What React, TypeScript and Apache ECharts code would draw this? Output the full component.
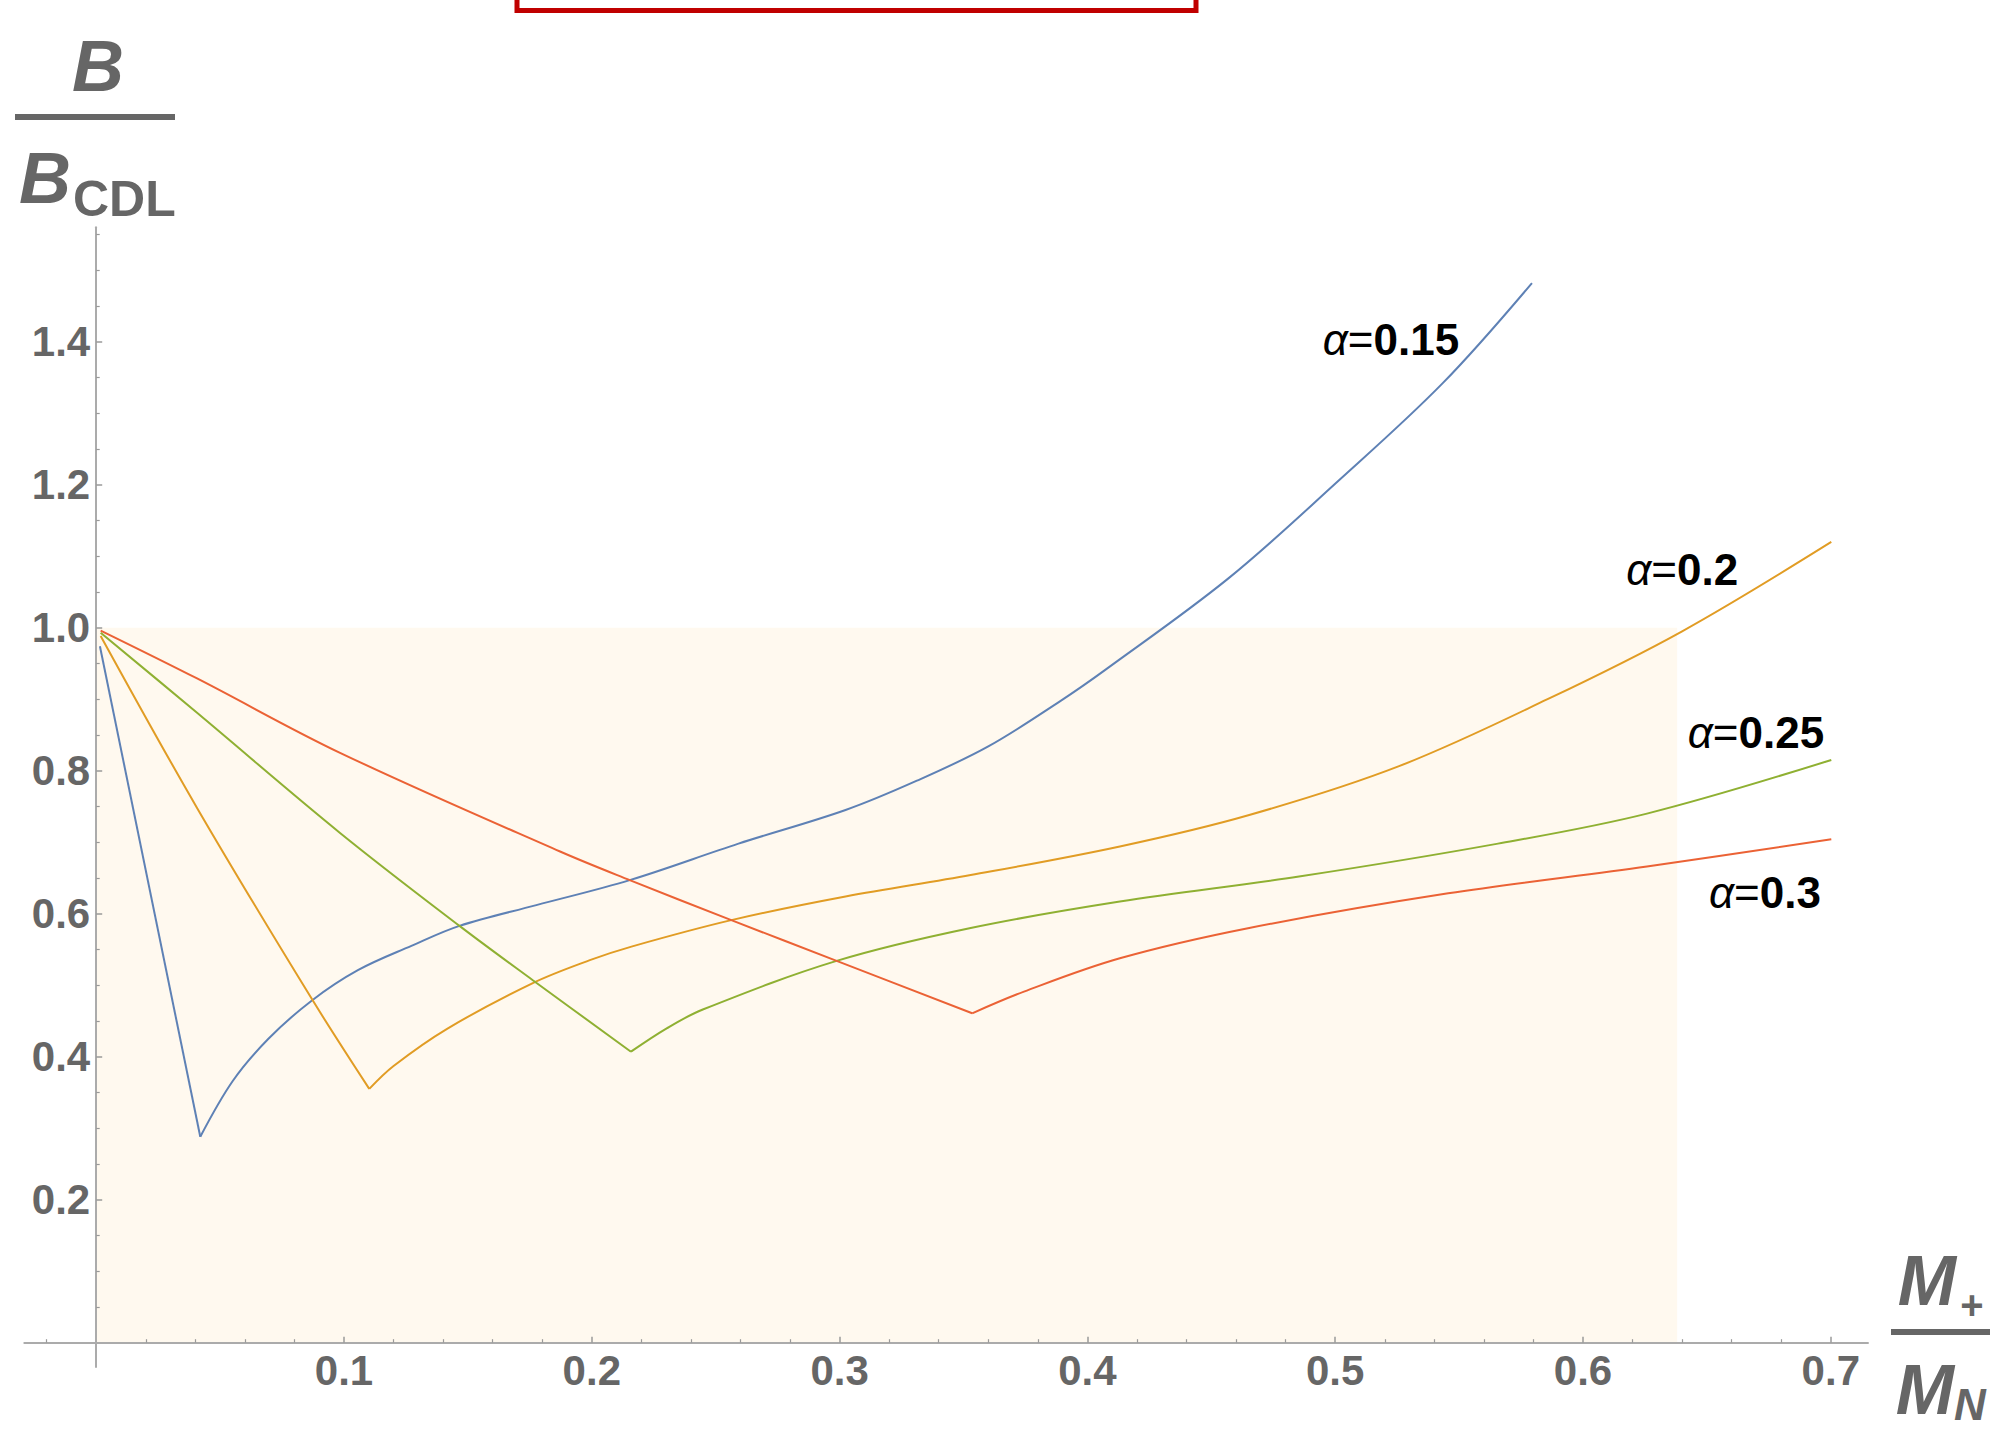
import React, { useEffect, useRef } from 'react';
import * as echarts from 'echarts';

// ---------- axis ranges & ticks ----------
const X_MIN = -0.029;
const X_MAX = 0.715;
const Y_MIN = -0.034;
const Y_MAX = 1.56;

const X_TICKS = [0.1, 0.2, 0.3, 0.4, 0.5, 0.6, 0.7];
const X_TICK_LABELS = ['0.1', '0.2', '0.3', '0.4', '0.5', '0.6', '0.7'];
const Y_TICKS = [0.2, 0.4, 0.6, 0.8, 1.0, 1.2, 1.4];
const Y_TICK_LABELS = ['0.2', '0.4', '0.6', '0.8', '1.0', '1.2', '1.4'];
const X_MINOR = [-0.02, 0.02, 0.04, 0.06, 0.08, 0.12, 0.14, 0.16, 0.18, 0.22, 0.24, 0.26, 0.28, 0.32, 0.34, 0.36, 0.38, 0.42, 0.44, 0.46, 0.48, 0.52, 0.54, 0.56, 0.58, 0.62, 0.64, 0.66, 0.68];
const Y_MINOR = [0.05, 0.1, 0.15, 0.25, 0.3, 0.35, 0.45, 0.5, 0.55, 0.65, 0.7, 0.75, 0.85, 0.9, 0.95, 1.05, 1.1, 1.15, 1.25, 1.3, 1.35, 1.45, 1.5, 1.55];

// shaded region (x from 0 to 0.638, y from 0 to 1)
const SHADE_X = [0, 0.638];
const SHADE_Y = [0, 1.0];

// ---------- series ----------
const ALPHA_NAMES = ['0.15', '0.2', '0.25', '0.3'];
const COLORS = ['#5E81B5', '#E19C24', '#8FB032', '#EB6235'];

const A015_DOWN = [[0.0015, 0.974], [0.042, 0.288]];
const A015_UP = [
  [0.042, 0.288], [0.0551, 0.366], [0.0695, 0.425], [0.0868, 0.478], [0.1056, 0.521],
  [0.1272, 0.555], [0.1466, 0.583], [0.1776, 0.612], [0.2153, 0.647], [0.2592, 0.698],
  [0.3024, 0.745], [0.3312, 0.786], [0.36, 0.834], [0.3889, 0.897], [0.4072, 0.941],
  [0.4569, 1.069], [0.5002, 1.202], [0.5434, 1.342], [0.5794, 1.482],
];

const A02_DOWN = [[0.0018, 0.9885], [0.0407, 0.748], [0.0868, 0.482], [0.1102, 0.355]];
const A02_UP = [
  [0.1102, 0.355], [0.12, 0.387], [0.1416, 0.439], [0.1762, 0.503], [0.1992, 0.535],
  [0.216, 0.554], [0.2563, 0.591], [0.3024, 0.624], [0.3529, 0.654], [0.4131, 0.694],
  [0.4653, 0.738], [0.5255, 0.806], [0.5857, 0.9], [0.64, 0.995], [0.7002, 1.12],
];

const A025_DOWN = [[0.0018, 0.993], [0.0407, 0.881], [0.0984, 0.713], [0.1466, 0.583], [0.1762, 0.507], [0.2158, 0.407]];
const A025_UP = [
  [0.2158, 0.407], [0.2304, 0.44], [0.2448, 0.466], [0.2988, 0.534], [0.3529, 0.58],
  [0.4131, 0.617], [0.4854, 0.652], [0.5657, 0.698], [0.6258, 0.74], [0.7002, 0.815],
];

const A03_DOWN = [[0.0018, 0.996], [0.0407, 0.929], [0.0984, 0.825], [0.1872, 0.687], [0.2153, 0.647], [0.2563, 0.591], [0.2988, 0.534], [0.3535, 0.4607]];
const A03_UP = [
  [0.3535, 0.4607], [0.3744, 0.491], [0.4131, 0.5376], [0.4653, 0.58], [0.5456, 0.6285],
  [0.6258, 0.666], [0.7002, 0.704],
];

const SERIES_PARTS = [
  [A015_DOWN, A015_UP],
  [A02_DOWN, A02_UP],
  [A025_DOWN, A025_UP],
  [A03_DOWN, A03_UP],
];

// label anchors (right edge, vertical centre) in data coordinates
const LABEL_ANCHORS = [[0.55, 1.403], [0.6626, 1.082], [0.6973, 0.854], [0.696, 0.629]];

// ---------- layout ----------
const W = 1990;
const H = 1430;
const X0_PX = 96.2;
const Y0_PX = 1342.7;
const PX_PER_X = 2478;
const PX_PER_Y = 715;
const GRID_LEFT = X0_PX + X_MIN * PX_PER_X;
const GRID_WIDTH = (X_MAX - X_MIN) * PX_PER_X;
const GRID_TOP = Y0_PX - Y_MAX * PX_PER_Y;
const GRID_HEIGHT = (Y_MAX - Y_MIN) * PX_PER_Y;
const X_AXIS_OFFSET = -(0 - Y_MIN) * PX_PER_Y;
const Y_AXIS_OFFSET = -(0 - X_MIN) * PX_PER_X;

const FONT = '"Liberation Sans", Arial, Helvetica, sans-serif';
const GRAY = '#666666';
const AXIS_COLOR = '#ababab';
const TICK_COLOR = '#9a9a9a';

export default function App() {
  const ref = useRef<HTMLDivElement>(null);

  useEffect(() => {
    if (!ref.current) return;
    const chart = echarts.init(ref.current, undefined, { renderer: 'svg' });

    const mainAxisCommon = {
      type: 'value' as const,
      splitLine: { show: false },
      z: 3,
    };

    const series: any[] = [];
    SERIES_PARTS.forEach((parts, i) => {
      parts.forEach((data, j) => {
        const s: any = {
          type: 'line',
          name: 'α=' + ALPHA_NAMES[i] + (j === 0 ? ' down' : ' up'),
          data,
          xAxisIndex: 0,
          yAxisIndex: 0,
          showSymbol: false,
          symbol: 'none',
          smooth: 0.35,
          silent: true,
          lineStyle: { color: COLORS[i], width: 2 },
          itemStyle: { color: COLORS[i] },
          z: 2,
        };
        if (i === 0 && j === 0) {
          s.markArea = {
            silent: true,
            itemStyle: { color: '#fff9ef' },
            label: { show: false },
            data: [[{ coord: [SHADE_X[0], SHADE_Y[0]] }, { coord: [SHADE_X[1], SHADE_Y[1]] }]],
          };
        }
        series.push(s);
      });
    });

    chart.setOption({
      animation: false,
      backgroundColor: '#ffffff',
      grid: {
        left: GRID_LEFT,
        top: GRID_TOP,
        width: GRID_WIDTH,
        height: GRID_HEIGHT,
        containLabel: false,
        outerBoundsMode: 'none',
      },
      xAxis: [
        {
          ...mainAxisCommon,
          min: X_MIN,
          max: X_MAX,
          position: 'bottom',
          offset: X_AXIS_OFFSET,
          axisLine: { show: true, onZero: false, lineStyle: { color: AXIS_COLOR, width: 2 } },
          axisTick: { show: true, inside: true, length: 6, customValues: X_TICKS, lineStyle: { color: TICK_COLOR, width: 1.5 } },
          axisLabel: {
            show: true,
            customValues: X_TICKS,
            margin: 7,
            color: GRAY,
            fontFamily: FONT,
            fontWeight: 'bold',
            fontSize: 42,
            formatter: (v: number) => X_TICK_LABELS[X_TICKS.indexOf(v)] ?? String(v),
          },
        },
        {
          ...mainAxisCommon,
          min: X_MIN,
          max: X_MAX,
          position: 'bottom',
          offset: X_AXIS_OFFSET,
          axisLine: { show: false, onZero: false },
          axisTick: { show: true, inside: true, length: 3.5, customValues: X_MINOR, lineStyle: { color: TICK_COLOR, width: 1.2 } },
          axisLabel: { show: false },
        },
      ],
      yAxis: [
        {
          ...mainAxisCommon,
          min: Y_MIN,
          max: Y_MAX,
          position: 'left',
          offset: Y_AXIS_OFFSET,
          axisLine: { show: true, onZero: false, lineStyle: { color: AXIS_COLOR, width: 2 } },
          axisTick: { show: true, inside: true, length: 6, customValues: Y_TICKS, lineStyle: { color: TICK_COLOR, width: 1.5 } },
          axisLabel: {
            show: true,
            customValues: Y_TICKS,
            margin: 6,
            color: GRAY,
            fontFamily: FONT,
            fontWeight: 'bold',
            fontSize: 42,
            formatter: (v: number) => Y_TICK_LABELS[Y_TICKS.indexOf(v)] ?? String(v),
          },
        },
        {
          ...mainAxisCommon,
          min: Y_MIN,
          max: Y_MAX,
          position: 'left',
          offset: Y_AXIS_OFFSET,
          axisLine: { show: false, onZero: false },
          axisTick: { show: true, inside: true, length: 3.5, customValues: Y_MINOR, lineStyle: { color: TICK_COLOR, width: 1.2 } },
          axisLabel: { show: false },
        },
      ],
      series,
    });

    const labelEls = LABEL_ANCHORS.map((p, i) => {
      const px = chart.convertToPixel({ xAxisIndex: 0, yAxisIndex: 0 }, p) as number[];
      return {
        type: 'text',
        x: px[0],
        y: px[1],
        z: 10,
        style: {
          text: '{a|α}{e|=}{b|' + ALPHA_NAMES[i] + '}',
          align: 'right',
          verticalAlign: 'middle',
          fill: '#000',
          rich: {
            a: { fontFamily: FONT, fontStyle: 'italic', fontSize: 44, fill: '#000' },
            e: { fontFamily: FONT, fontSize: 44, fill: '#000' },
            b: { fontFamily: FONT, fontWeight: 'bold', fontSize: 44, fill: '#000' },
          },
        },
      };
    });

    const axisNameEls: any[] = [
      // y axis name: B / B_CDL
      { type: 'text', x: 98, y: 66, style: { text: 'B', font: `italic bold 72px ${FONT}`, fill: GRAY, align: 'center', verticalAlign: 'middle' } },
      { type: 'rect', shape: { x: 15, y: 114, width: 160, height: 6 }, style: { fill: GRAY } },
      { type: 'text', x: 45, y: 178, style: { text: 'B', font: `italic bold 72px ${FONT}`, fill: GRAY, align: 'center', verticalAlign: 'middle' } },
      { type: 'text', x: 73, y: 199, style: { text: 'CDL', font: `bold 50px ${FONT}`, fill: GRAY, align: 'left', verticalAlign: 'middle' } },
      // x axis name: M+ / M_N
      { type: 'text', x: 1927, y: 1281, style: { text: 'M', font: `italic bold 70px ${FONT}`, fill: GRAY, align: 'center', verticalAlign: 'middle' } },
      { type: 'text', x: 1972, y: 1305, style: { text: '+', font: `bold 40px ${FONT}`, fill: GRAY, align: 'center', verticalAlign: 'middle' } },
      { type: 'rect', shape: { x: 1891, y: 1329, width: 99, height: 6 }, style: { fill: GRAY } },
      { type: 'text', x: 1925, y: 1390, style: { text: 'M', font: `italic bold 70px ${FONT}`, fill: GRAY, align: 'center', verticalAlign: 'middle' } },
      { type: 'text', x: 1970, y: 1404, style: { text: 'N', font: `italic bold 44px ${FONT}`, fill: GRAY, align: 'center', verticalAlign: 'middle' } },
      // red frame at the top
      { type: 'rect', shape: { x: 517, y: -30, width: 679, height: 40.5 }, style: { fill: 'none', stroke: '#c00000', lineWidth: 5 } },
    ];

    chart.setOption({ graphic: { elements: [...labelEls, ...axisNameEls] } });

    return () => {
      chart.dispose();
    };
  }, []);

  return (
    <div
      ref={ref}
      style={{ position: 'absolute', left: 0, top: 0, width: W, height: H, background: '#fff' }}
    />
  );
}
